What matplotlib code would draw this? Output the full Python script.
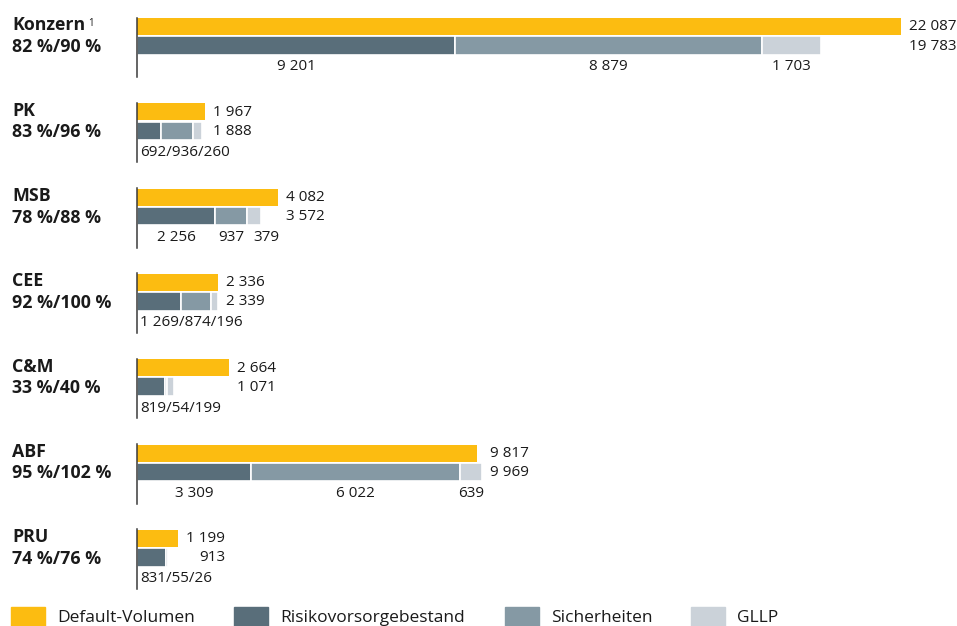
import matplotlib
matplotlib.use('Agg')
import matplotlib.pyplot as plt
from matplotlib.patches import Rectangle

plt.rcParams['font.family'] = ['Open Sans', 'DejaVu Sans']

# data (EUR m)
groups = ['Konzern', 'PK', 'MSB', 'CEE', 'C&M', 'ABF', 'PRU']
ratios = ['82 %/90 %', '83 %/96 %', '78 %/88 %', '92 %/100 %',
          '33 %/40 %', '95 %/102 %', '74 %/76 %']
default_vol = [22087, 1967, 4082, 2336, 2664, 9817, 1199]
risiko = [9201, 692, 2256, 1269, 819, 3309, 831]
sicherheiten = [8879, 936, 937, 874, 54, 6022, 55]
gllp = [1703, 260, 379, 196, 199, 639, 26]
totals = [19783, 1888, 3572, 2339, 1071, 9969, 913]
# segment values spread under the bar (True) or joined with slashes (False)
spread = [True, False, True, False, False, True, False]

legend_labels = ['Default-Volumen', 'Risikovorsorgebestand', 'Sicherheiten', 'GLLP']

YELLOW = '#FCBC11'
DARK = '#596E7A'
MID = '#8599A4'
LIGHT = '#CBD2D9'
TXT = '#1a1a1a'
seg_colors = [DARK, MID, LIGHT]

FS_LAB = 12.8   # bold group labels
FS_VAL = 11.0   # numbers
FS_LEG = 12.5   # legend


def fmt(v):
    return f'{v:,}'.replace(',', ' ')


W, H = 957, 626
fig = plt.figure(figsize=(W / 100, H / 100), dpi=100)
ax = fig.add_axes([0, 0, 1, 1])

x0 = 137                 # pixel position of the zero line
s = 764 / 22087          # pixels per unit
ax.set_xlim(-x0 / s, (W - x0) / s)
ax.set_ylim(H, 0)
ax.axis('off')


def px(p):
    return p / s


for i, g in enumerate(groups):
    top = 18 + i * 85.3
    # default volume
    ax.barh(top + 8.5, default_vol[i], height=17, color=YELLOW, zorder=2)
    # stacked: risk provisions / collateral / GLLP
    segs = [risiko[i], sicherheiten[i], gllp[i]]
    lefts = [0, segs[0], segs[0] + segs[1]]
    ax.barh([top + 27.5] * 3, segs, left=lefts, height=18.6, color=seg_colors,
            edgecolor='white', linewidth=1.2, zorder=2)
    ax.plot([0, 0], [top - 0.5, top + 59], color='#3a3a3a', lw=1.1, zorder=3)

    # group label + ratios
    t = ax.text(px(12 - x0), top + 7.5, g, fontsize=FS_LAB, fontweight='bold',
                va='center', ha='left', color=TXT)
    if g == 'Konzern':
        ax.annotate('1', xy=(1, 1), xycoords=t, xytext=(3, -1),
                    textcoords='offset pixels', fontsize=7, va='top',
                    ha='left', color=TXT)
    ax.text(px(12 - x0), top + 29, ratios[i], fontsize=FS_LAB, fontweight='bold',
            va='center', ha='left', color=TXT)

    # values right of bars
    xr = max(default_vol[i], totals[i]) + px(8)
    t1 = ax.text(xr, top + 9, fmt(default_vol[i]), fontsize=FS_VAL,
                 va='center', ha='left', color=TXT)
    ax.annotate(fmt(totals[i]), xy=(1, 0.5), xycoords=t1, xytext=(0, -19),
                textcoords='offset pixels', fontsize=FS_VAL, va='center',
                ha='right', color=TXT)

    # segment values below
    ylab = top + 49
    if spread[i]:
        for j, v in enumerate(segs):
            xc = lefts[j] + v / 2
            # keep tiny neighbouring labels apart
            if g == 'MSB' and j == 2:
                xc += px(12)
            ax.text(xc, ylab, fmt(v), fontsize=FS_VAL, va='center', ha='center',
                    color=TXT)
    else:
        ax.text(px(3), ylab, '/'.join(fmt(v) for v in segs), fontsize=FS_VAL,
                va='center', ha='left', color=TXT)

# legend
leg_patch_x = [11, 234, 505, 691]
for lx, lab, c in zip(leg_patch_x, legend_labels, [YELLOW] + seg_colors):
    fig.patches.append(Rectangle((lx / W, 0), 34 / W, 19 / H, color=c,
                                 transform=fig.transFigure, figure=fig))
    fig.text((lx + 46) / W, 8 / H, lab, fontsize=FS_LEG, va='center',
             ha='left', color=TXT)

fig.savefig('out.png', dpi=100)
